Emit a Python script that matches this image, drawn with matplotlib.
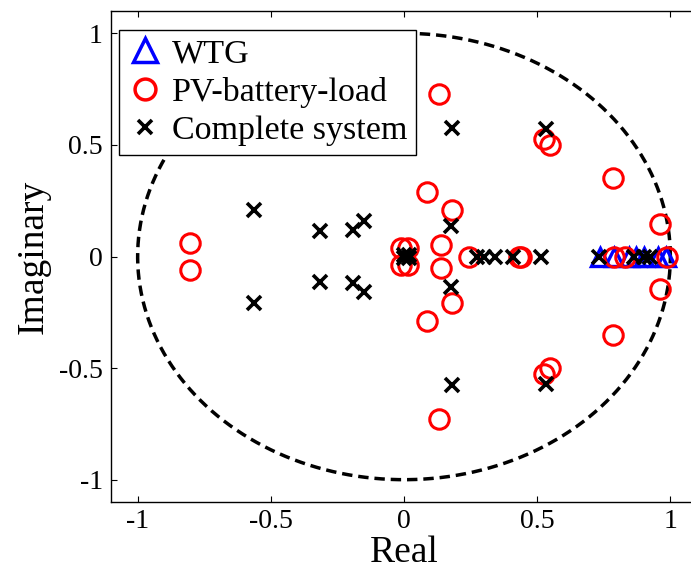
import numpy as np
import matplotlib.pyplot as plt
from matplotlib.lines import Line2D

plt.rcParams['font.family'] = ['Liberation Serif', 'DejaVu Serif']

# eigenvalues
wtg_re = [0.735, 0.79, 0.845, 0.87, 0.90, 0.955, 0.985]
wtg_im = [0.0, 0.0, 0.0, 0.0, 0.0, 0.0, 0.0]

pv_re = [-0.805, -0.805, -0.012, -0.012, 0.015, 0.015, 0.088, 0.088, 0.13, 0.13,
         0.14, 0.14, 0.182, 0.182, 0.245, 0.43, 0.44, 0.525, 0.525, 0.548, 0.548,
         0.785, 0.785, 0.79, 0.83, 0.96, 0.96, 0.987]
pv_im = [0.06, -0.06, 0.04, -0.04, 0.04, -0.04, 0.29, -0.29, 0.73, -0.73,
         0.05, -0.05, 0.21, -0.21, 0.0, 0.0, 0.0, 0.525, -0.525, 0.50, -0.50,
         0.35, -0.35, 0.0, 0.0, 0.145, -0.145, 0.0]

sys_re = [-0.565, -0.565, -0.317, -0.317, -0.19, -0.19, -0.151, -0.151,
          0.0, 0.0, 0.02, 0.02, 0.175, 0.175, 0.181, 0.181, 0.534, 0.534,
          0.275, 0.30, 0.34, 0.41, 0.515, 0.732, 0.864, 0.90, 0.925]
sys_im = [0.21, -0.21, 0.115, -0.115, 0.12, -0.12, 0.16, -0.16,
          0.008, -0.008, 0.008, -0.008, 0.137, -0.137, 0.575, -0.575, 0.573, -0.573,
          0.0, 0.0, 0.0, 0.0, 0.0, 0.0, 0.0, 0.0, 0.0]

x_ticks = [-1, -0.5, 0, 0.5, 1]
y_ticks = [-1, -0.5, 0, 0.5, 1]

fig = plt.figure(figsize=(6.91, 5.74), dpi=100)
ax = fig.add_axes([111/691, 72/574, 586/691, 491/574])

# unit circle
th = np.linspace(0, 2*np.pi, 400)
ax.plot(np.cos(th), np.sin(th), color='black', lw=2.5, dashes=(3, 1.7))

ax.plot(wtg_re, wtg_im, ls='none', marker='^', ms=13, mfc='none', mec='blue', mew=2.4)
ax.plot(pv_re, pv_im, ls='none', marker='o', ms=14, mfc='none', mec='red', mew=2.2)
ax.plot(sys_re, sys_im, ls='none', marker='x', ms=10.5, mec='black', mew=2.6)

ax.set_xlim(-1.1, 1.1)
ax.set_ylim(-1.1, 1.1)
ax.set_xticks(x_ticks)
ax.set_yticks(y_ticks)
ax.set_xticklabels(['-1', '-0.5', '0', '0.5', '1'])
ax.set_yticklabels(['-1', '-0.5', '0', '0.5', '1'])
ax.tick_params(direction='in', length=4, width=0.8, labelsize=20,
               top=True, right=True, pad=6)
ax.tick_params(axis='x', pad=5)
for s in ax.spines.values():
    s.set_linewidth(1.0)

ax.set_xlabel('Real', fontsize=27, labelpad=1)
ax.set_ylabel('Imaginary', fontsize=27, labelpad=6)

handles = [
    Line2D([], [], ls='none', marker='^', ms=17, mfc='none', mec='blue', mew=2.5),
    Line2D([], [], ls='none', marker='o', ms=15, mfc='none', mec='red', mew=2.5),
    Line2D([], [], ls='none', marker='x', ms=10, mec='black', mew=2.6),
]
leg = ax.legend(handles, ['WTG', 'PV-battery-load', 'Complete system'],
                loc='upper left', bbox_to_anchor=(8/586, 472/491),
                fontsize=24.5, frameon=True, fancybox=False, framealpha=1,
                edgecolor='black', borderpad=0.25, handlelength=1.0,
                handletextpad=0.3, labelspacing=0.22, borderaxespad=0)
leg.get_frame().set_linewidth(1.0)

fig.savefig('out.png', dpi=100)
